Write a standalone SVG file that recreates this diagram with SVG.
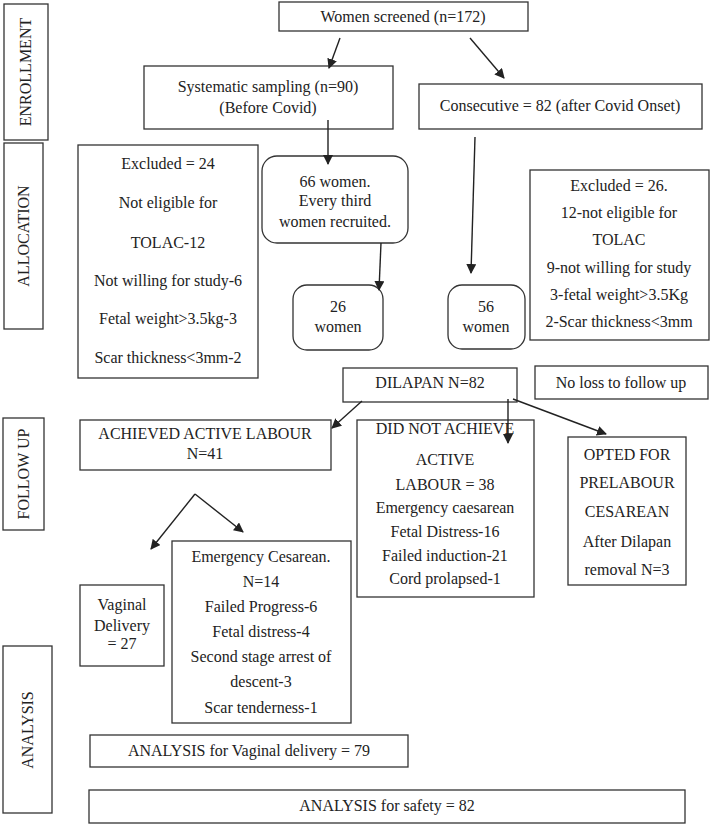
<svg xmlns="http://www.w3.org/2000/svg" width="710" height="824" viewBox="0 0 710 824">
<style>
rect{fill:#fff;stroke:#333;stroke-width:1.3}
text{font-family:"Liberation Serif","Times New Roman",serif;font-size:16px;fill:#222;text-anchor:middle}
.c line,.c polyline{stroke:#222;stroke-width:1.4;fill:none}
</style>
<defs>
<marker id="ah" viewBox="0 0 10 10" refX="9" refY="5" markerWidth="10" markerHeight="10" markerUnits="userSpaceOnUse" orient="auto">
<path d="M0,0 L10,5 L0,10 z" fill="#222"/>
</marker>
</defs>
<rect width="710" height="824" style="fill:#fff;stroke:none"/>

<g id="lbl-enrollment"><rect x="4" y="4" width="44" height="136"/><text transform="translate(31,72) rotate(-90)">ENROLLMENT</text></g>
<g id="lbl-allocation"><rect x="4" y="143" width="39" height="186"/><text transform="translate(29,236) rotate(-90)">ALLOCATION</text></g>
<g id="lbl-followup"><rect x="3" y="418" width="41" height="112"/><text transform="translate(29,474) rotate(-90)">FOLLOW UP</text></g>
<g id="lbl-analysis"><rect x="3" y="646" width="49" height="167"/><text transform="translate(33,730) rotate(-90)">ANALYSIS</text></g>

<g id="screened"><rect x="279" y="2" width="249" height="29"/><text x="403" y="22">Women screened (n=172)</text></g>
<g id="systematic"><rect x="144" y="66" width="249" height="63"/><text x="268" y="92">Systematic sampling (n=90)</text><text x="268" y="113">(Before Covid)</text></g>
<g id="consecutive"><rect x="419" y="84" width="283" height="45"/><text x="560" y="111">Consecutive = 82 (after Covid Onset)</text></g>
<g id="excluded24"><rect x="78" y="145" width="180" height="233"/>
<text x="168" y="169">Excluded = 24</text>
<text x="168" y="208">Not eligible for</text>
<text x="168" y="248">TOLAC-12</text>
<text x="168" y="286">Not willing for study-6</text>
<text x="168" y="324">Fetal weight&gt;3.5kg-3</text>
<text x="168" y="363">Scar thickness&lt;3mm-2</text></g>
<g id="women66"><rect x="262" y="156" width="146" height="87" rx="15"/>
<text x="335" y="187">66 women.</text>
<text x="335" y="206">Every third</text>
<text x="335" y="227">women recruited.</text></g>
<g id="women26"><rect x="293" y="285" width="90" height="65" rx="14"/><text x="338" y="312">26</text><text x="338" y="332">women</text></g>
<g id="women56"><rect x="448" y="285" width="77" height="64" rx="14"/><text x="486" y="312">56</text><text x="486" y="332">women</text></g>
<g id="excluded26"><rect x="530" y="170" width="179" height="170"/>
<text x="619" y="191">Excluded = 26.</text>
<text x="619" y="218">12-not eligible for</text>
<text x="619" y="245">TOLAC</text>
<text x="619" y="273">9-not willing for study</text>
<text x="619" y="300">3-fetal weight&gt;3.5Kg</text>
<text x="619" y="327">2-Scar thickness&lt;3mm</text></g>
<g id="dilapan"><rect x="343" y="368" width="174" height="34"/><text x="430" y="388">DILAPAN N=82</text></g>
<g id="noloss"><rect x="535" y="366" width="173" height="33"/><text x="621" y="388">No loss to follow up</text></g>
<g id="achieved"><rect x="80" y="420" width="251" height="50"/><text x="205" y="439">ACHIEVED ACTIVE LABOUR</text><text x="205" y="459">N=41</text></g>
<g id="notachieved"><rect x="357" y="420" width="177" height="177"/>
<text x="445" y="434">DID NOT ACHIEVE</text>
<text x="445" y="465">ACTIVE</text>
<text x="445" y="490">LABOUR = 38</text>
<text x="445" y="513">Emergency caesarean</text>
<text x="445" y="537">Fetal Distress-16</text>
<text x="445" y="561">Failed induction-21</text>
<text x="445" y="584">Cord prolapsed-1</text></g>
<g id="opted"><rect x="568" y="437" width="118" height="148"/>
<text x="627" y="460">OPTED FOR</text>
<text x="627" y="488">PRELABOUR</text>
<text x="627" y="517">CESAREAN</text>
<text x="627" y="547">After Dilapan</text>
<text x="627" y="575">removal N=3</text></g>
<g id="vaginal"><rect x="80" y="585" width="84" height="81"/><text x="122" y="610">Vaginal</text><text x="122" y="631">Delivery</text><text x="122" y="649">= 27</text></g>
<g id="emergency"><rect x="172" y="541" width="179" height="182"/>
<text x="261" y="562">Emergency Cesarean.</text>
<text x="261" y="587">N=14</text>
<text x="261" y="612">Failed Progress-6</text>
<text x="261" y="637">Fetal distress-4</text>
<text x="261" y="662">Second stage arrest of</text>
<text x="261" y="687">descent-3</text>
<text x="261" y="713">Scar tenderness-1</text></g>
<g id="analysis-vag"><rect x="90" y="735" width="318" height="32"/><text x="249" y="756">ANALYSIS for Vaginal delivery = 79</text></g>
<g id="analysis-safety"><rect x="89" y="790" width="596" height="33"/><text x="387" y="811">ANALYSIS for safety = 82</text></g>

<g id="connectors" class="c">
<line x1="340" y1="38" x2="329" y2="68" marker-end="url(#ah)"/>
<line x1="470" y1="38" x2="504" y2="78" marker-end="url(#ah)"/>
<line x1="328" y1="120" x2="328" y2="164" marker-end="url(#ah)"/>
<line x1="475" y1="137" x2="471" y2="273" marker-end="url(#ah)"/>
<line x1="381" y1="243" x2="379" y2="290" marker-end="url(#ah)"/>
<line x1="362" y1="401" x2="332" y2="428" marker-end="url(#ah)"/>
<line x1="508" y1="399" x2="508" y2="443" marker-end="url(#ah)"/>
<line x1="513" y1="399" x2="606" y2="434" marker-end="url(#ah)"/>
<line x1="195" y1="494" x2="151" y2="549" marker-end="url(#ah)"/>
<line x1="195" y1="494" x2="243" y2="532" marker-end="url(#ah)"/>
</g>
</svg>
